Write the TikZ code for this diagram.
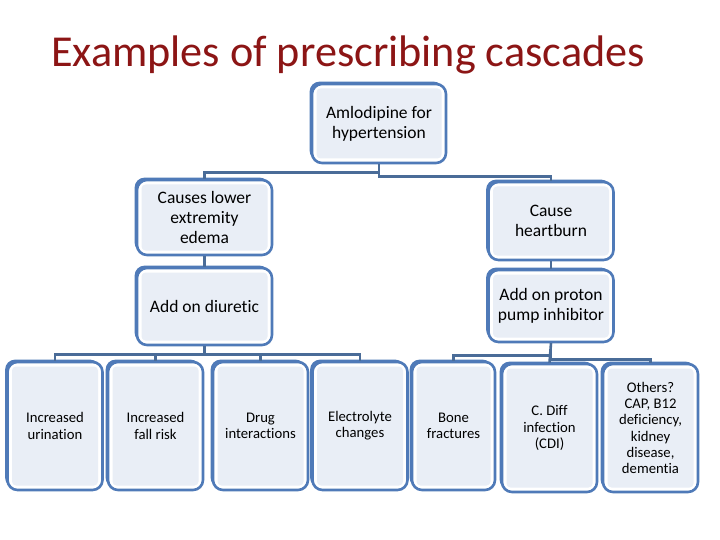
\documentclass[tikz,border=0pt]{standalone}
\usepackage{fontspec}
\setmainfont{Carlito}[Ligatures={NoCommon}]
\usetikzlibrary{shadows}
\definecolor{boxblue}{HTML}{4F7AB8}
\definecolor{connblue}{HTML}{4A6C98}
\definecolor{boxfill}{HTML}{E9EEF6}
\definecolor{titlered}{HTML}{8C1515}
\tikzset{
  cbox/.style={draw=boxblue, line width=2.6pt, fill=white, rounded corners=10pt,
    align=center, inner sep=0pt, font=\fontsize{17.5}{20}\selectfont,
    general shadow={shadow xshift=-2.4pt, shadow yshift=2.4pt, fill=boxblue},
    path picture={\fill[boxfill, rounded corners=4pt]
      ([shift={(4.5pt,4.5pt)}]path picture bounding box.south west) rectangle
      ([shift={(-4.5pt,-4.5pt)}]path picture bounding box.north east);}},
  sbox/.style={cbox, minimum width=95pt, minimum height=128pt, font=\fontsize{14.7}{16.2}\selectfont},
  conn/.style={draw=connblue, line width=2.6pt},
  titletext/.style={text=titlered, font=\fontsize{44.2}{50}\selectfont, inner sep=0pt}
}
\begin{document}
\begin{tikzpicture}[x=1pt,y=-1pt]
\fill[white] (0,0) rectangle (720,540);
\useasboundingbox (0,0) rectangle (720,540);
\node[titletext] (title) at (348,55) {Examples of prescribing cascades};

\node[cbox, minimum width=134pt, minimum height=79pt] (top) at (379,123.5) {Amlodipine for\\hypertension};
\node[cbox, minimum width=135pt, minimum height=75pt] (edema) at (204.5,217.5) {Causes lower\\extremity\\edema};
\node[cbox, minimum width=125pt, minimum height=78pt] (heart) at (551,221) {Cause\\heartburn};
\node[cbox, minimum width=135pt, minimum height=77pt] (diur) at (204.5,306.5) {Add on diuretic};
\node[cbox, minimum width=125pt, minimum height=72pt] (ppi) at (551,306) {Add on proton\\pump inhibitor};

\node[sbox] (b1) at (55,426) {Increased\\urination};
\node[sbox] (b2) at (155.5,426) {Increased\\fall risk};
\node[sbox] (b3) at (260.5,426) {Drug\\interactions};
\node[sbox] (b4) at (360,426) {Electrolyte\\changes};
\node[sbox, minimum width=83pt] (b5) at (453.5,426) {Bone\\fractures};
\node[sbox] (b6) at (549.5,428) {C. Diff\\infection\\(CDI)};
\node[sbox] (b7) at (650.5,428) {Others?\\CAP, B12\\deficiency,\\kidney\\disease,\\dementia};

\draw[conn] (top.south) -- ++(0,8) -| (edema.north);
\draw[conn] (top.south) -- ++(0,12) -| (heart.north);
\draw[conn] (edema.south) -- (diur.north);
\draw[conn] (heart.south) -- (ppi.north);
\draw[conn] (diur.south) -- ++(0,8) -| (b1.north);
\draw[conn] (diur.south) -- ++(0,8) -| (b2.north);
\draw[conn] (diur.south) -- ++(0,8) -| (b3.north);
\draw[conn] (diur.south) -- ++(0,8) -| (b4.north);
\draw[conn] (ppi.south) -- ++(0,12) -| (b5.north);
\draw[conn] (ppi.south) -- (b6.north);
\draw[conn] (ppi.south) -- ++(0,16) -| (b7.north);
\end{tikzpicture}
\end{document}
